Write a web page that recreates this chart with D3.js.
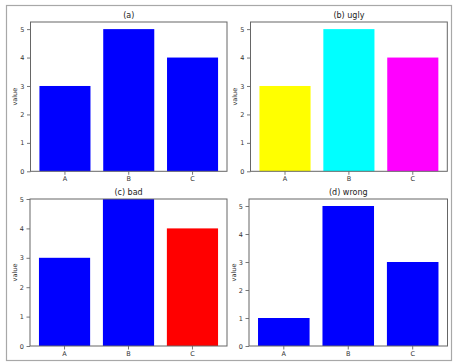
<!DOCTYPE html>
<html>
<head>
<meta charset="utf-8">
<script src="https://cdn.jsdelivr.net/npm/d3@7"></script>
<style>
  body { margin: 0; background: #fff; }
  svg { display: block; font-family: "DejaVu Sans", sans-serif; }
</style>
</head>
<body>
<svg width="456" height="364"></svg>
<script>
var categories = ["A", "B", "C"];
var valuesA = [3, 5, 4];
var valuesB = [3, 5, 4];
var valuesC = [3, 5, 4];
var valuesD = [1, 5, 3];
var yTicks = [0, 1, 2, 3, 4, 5];
var titles = ["(a)", "(b) ugly", "(c) bad", "(d) wrong"];
var colorsA = ["#0000ff", "#0000ff", "#0000ff"];
var colorsB = ["#ffff00", "#00ffff", "#ff00ff"];
var colorsC = ["#0000ff", "#0000ff", "#ff0000"];
var colorsD = ["#0000ff", "#0000ff", "#0000ff"];

var svg = d3.select("svg");

// outer frame
svg.append("rect")
  .attr("x", 6.5).attr("y", 5.5)
  .attr("width", 445).attr("height", 355)
  .attr("fill", "none")
  .attr("stroke", "#a8a8a8")
  .attr("stroke-width", 1.2);

function panel(box, title, values, colors, yMax) {
  var x = d3.scaleBand()
    .domain(categories)
    .range([box.x0, box.x1])
    .paddingInner(0.2)
    .paddingOuter(0.14);

  var y = d3.scaleLinear()
    .domain([0, yMax])
    .range([box.y1, box.y0]);

  var g = svg.append("g");

  g.selectAll(".bar")
    .data(values)
    .enter()
    .append("rect")
    .attr("class", "bar")
    .attr("x", function (d, i) { return x(categories[i]); })
    .attr("y", function (d) { return y(d); })
    .attr("width", x.bandwidth())
    .attr("height", function (d) { return y(0) - y(d); })
    .attr("fill", function (d, i) { return colors[i]; });

  // axes
  var xAxis = g.append("g")
    .attr("transform", "translate(0," + box.y1 + ")")
    .call(d3.axisBottom(x).tickSize(3.5).tickPadding(2));
  var yAxis = g.append("g")
    .attr("transform", "translate(" + box.x0 + ",0)")
    .call(d3.axisLeft(y).tickValues(yTicks).tickFormat(d3.format("d")).tickSize(3.5).tickPadding(2.5));

  [xAxis, yAxis].forEach(function (a) {
    a.select(".domain").remove();
    a.selectAll("line").attr("stroke", "#555").attr("stroke-width", 0.8);
    a.selectAll("text")
      .attr("fill", "#333")
      .style("font-size", "6.5px")
      .style("font-family", "DejaVu Sans, sans-serif");
  });

  // spines
  g.append("rect")
    .attr("x", box.x0).attr("y", box.y0)
    .attr("width", box.x1 - box.x0).attr("height", box.y1 - box.y0)
    .attr("fill", "none")
    .attr("stroke", "#666")
    .attr("stroke-width", 1);

  g.append("text")
    .attr("x", (box.x0 + box.x1) / 2)
    .attr("y", box.y0 - 4)
    .attr("text-anchor", "middle")
    .attr("fill", "#222")
    .style("font-size", "8px")
    .text(title);

  g.append("text")
    .attr("transform", "translate(" + (box.x0 - 13.5) + "," + ((box.y0 + box.y1) / 2) + ") rotate(-90)")
    .attr("text-anchor", "middle")
    .attr("fill", "#333")
    .style("font-size", "6.5px")
    .text("value");
}

panel({ x0: 30.5, x1: 227, y0: 22, y1: 171.3 }, titles[0], valuesA, colorsA, 5.25);
panel({ x0: 250.5, x1: 447.3, y0: 22, y1: 171.3 }, titles[1], valuesB, colorsB, 5.25);
panel({ x0: 30, x1: 227, y0: 199, y1: 346 }, titles[2], valuesC, colorsC, 5);
panel({ x0: 249, x1: 447.5, y0: 199, y1: 346 }, titles[3], valuesD, colorsD, 5.25);
</script>
</body>
</html>
